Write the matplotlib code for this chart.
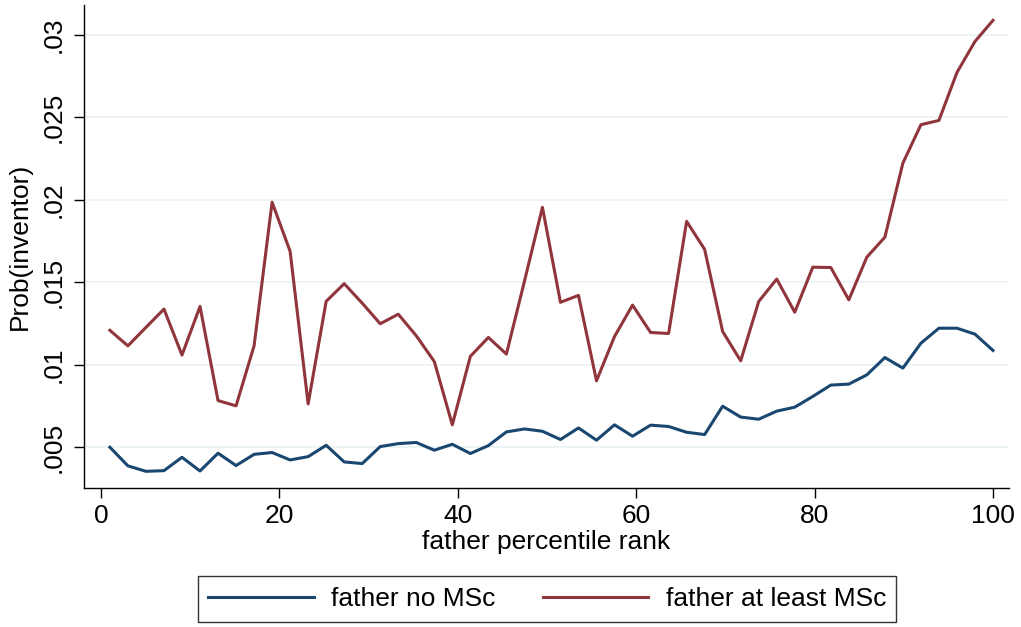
import numpy as np
import matplotlib
matplotlib.use("Agg")
import matplotlib.pyplot as plt

plt.rcParams['font.family'] = ['Liberation Sans', 'DejaVu Sans']

# 50 bins of father percentile rank, evenly spread from 1 to 100
rank = np.linspace(1, 100, 50)

# share of children who become inventors, father without an MSc
prob_no_msc = [
    0.00500, 0.00387, 0.00354, 0.00358, 0.00439, 0.00356, 0.00464, 0.00389,
    0.00457, 0.00468, 0.00423, 0.00443, 0.00512, 0.00411, 0.00401, 0.00504,
    0.00522, 0.00529, 0.00482, 0.00518, 0.00462, 0.00510, 0.00593, 0.00611,
    0.00597, 0.00547, 0.00617, 0.00543, 0.00636, 0.00567, 0.00634, 0.00626,
    0.00591, 0.00577, 0.00749, 0.00683, 0.00670, 0.00719, 0.00743, 0.00808,
    0.00877, 0.00883, 0.00939, 0.01044, 0.00980, 0.01131, 0.01222, 0.01222,
    0.01186, 0.01087,
]

# same, father with at least an MSc
prob_msc = [
    0.01209, 0.01115, 0.01227, 0.01338, 0.01059, 0.01354, 0.00783, 0.00751,
    0.01115, 0.01986, 0.01688, 0.00763, 0.01385, 0.01492, 0.01374, 0.01249,
    0.01307, 0.01176, 0.01020, 0.00636, 0.01051, 0.01166, 0.01065, 0.01506,
    0.01955, 0.01379, 0.01421, 0.00903, 0.01172, 0.01362, 0.01196, 0.01190,
    0.01870, 0.01700, 0.01202, 0.01024, 0.01384, 0.01520, 0.01319, 0.01592,
    0.01590, 0.01394, 0.01653, 0.01774, 0.02223, 0.02456, 0.02482, 0.02773,
    0.02961, 0.03089,
]

x_ticks = [0, 20, 40, 60, 80, 100]
y_ticks = [0.005, 0.01, 0.015, 0.02, 0.025, 0.03]
y_tick_labels = ['.005', '.01', '.015', '.02', '.025', '.03']

navy = '#1a476f'
maroon = '#90353b'
fs = 19

fig = plt.figure(figsize=(10.21, 6.27), dpi=100)
ax = fig.add_axes([0.0823, 0.2212, 0.9060, 0.7708])

ax.plot(rank, prob_no_msc, color=navy, lw=2.2, label='father no MSc')
ax.plot(rank, prob_msc, color=maroon, lw=2.2, label='father at least MSc')

ax.set_xlim(-1.9, 101.8)
ax.set_ylim(0.00251, 0.03182)
ax.set_xticks(x_ticks)
ax.set_yticks(y_ticks)
ax.set_yticklabels(y_tick_labels, rotation=90, va='center')
ax.tick_params(direction='out', length=7, width=1, labelsize=fs, pad=4)
ax.tick_params(axis='y', pad=6)
ax.grid(axis='y', color='#eaf2f3', lw=1.2)
ax.set_axisbelow(True)

for side in ['top', 'right']:
    ax.spines[side].set_visible(False)
for side in ['left', 'bottom']:
    ax.spines[side].set_linewidth(1)

ax.set_xlabel('father percentile rank', fontsize=fs, labelpad=2)
ax.set_ylabel('Prob(inventor)', fontsize=fs)
ax.yaxis.set_label_coords(-0.056, 0.5)

leg = ax.legend(loc='center', bbox_to_anchor=(0.5358, 0.0447),
                bbox_transform=fig.transFigure, ncol=2, fontsize=fs,
                frameon=True, fancybox=False, edgecolor='black',
                handlelength=4.0, handletextpad=0.65, columnspacing=1.8,
                borderpad=0.4, borderaxespad=0)
leg.get_frame().set_linewidth(1)

fig.savefig('out.png', dpi=100)
